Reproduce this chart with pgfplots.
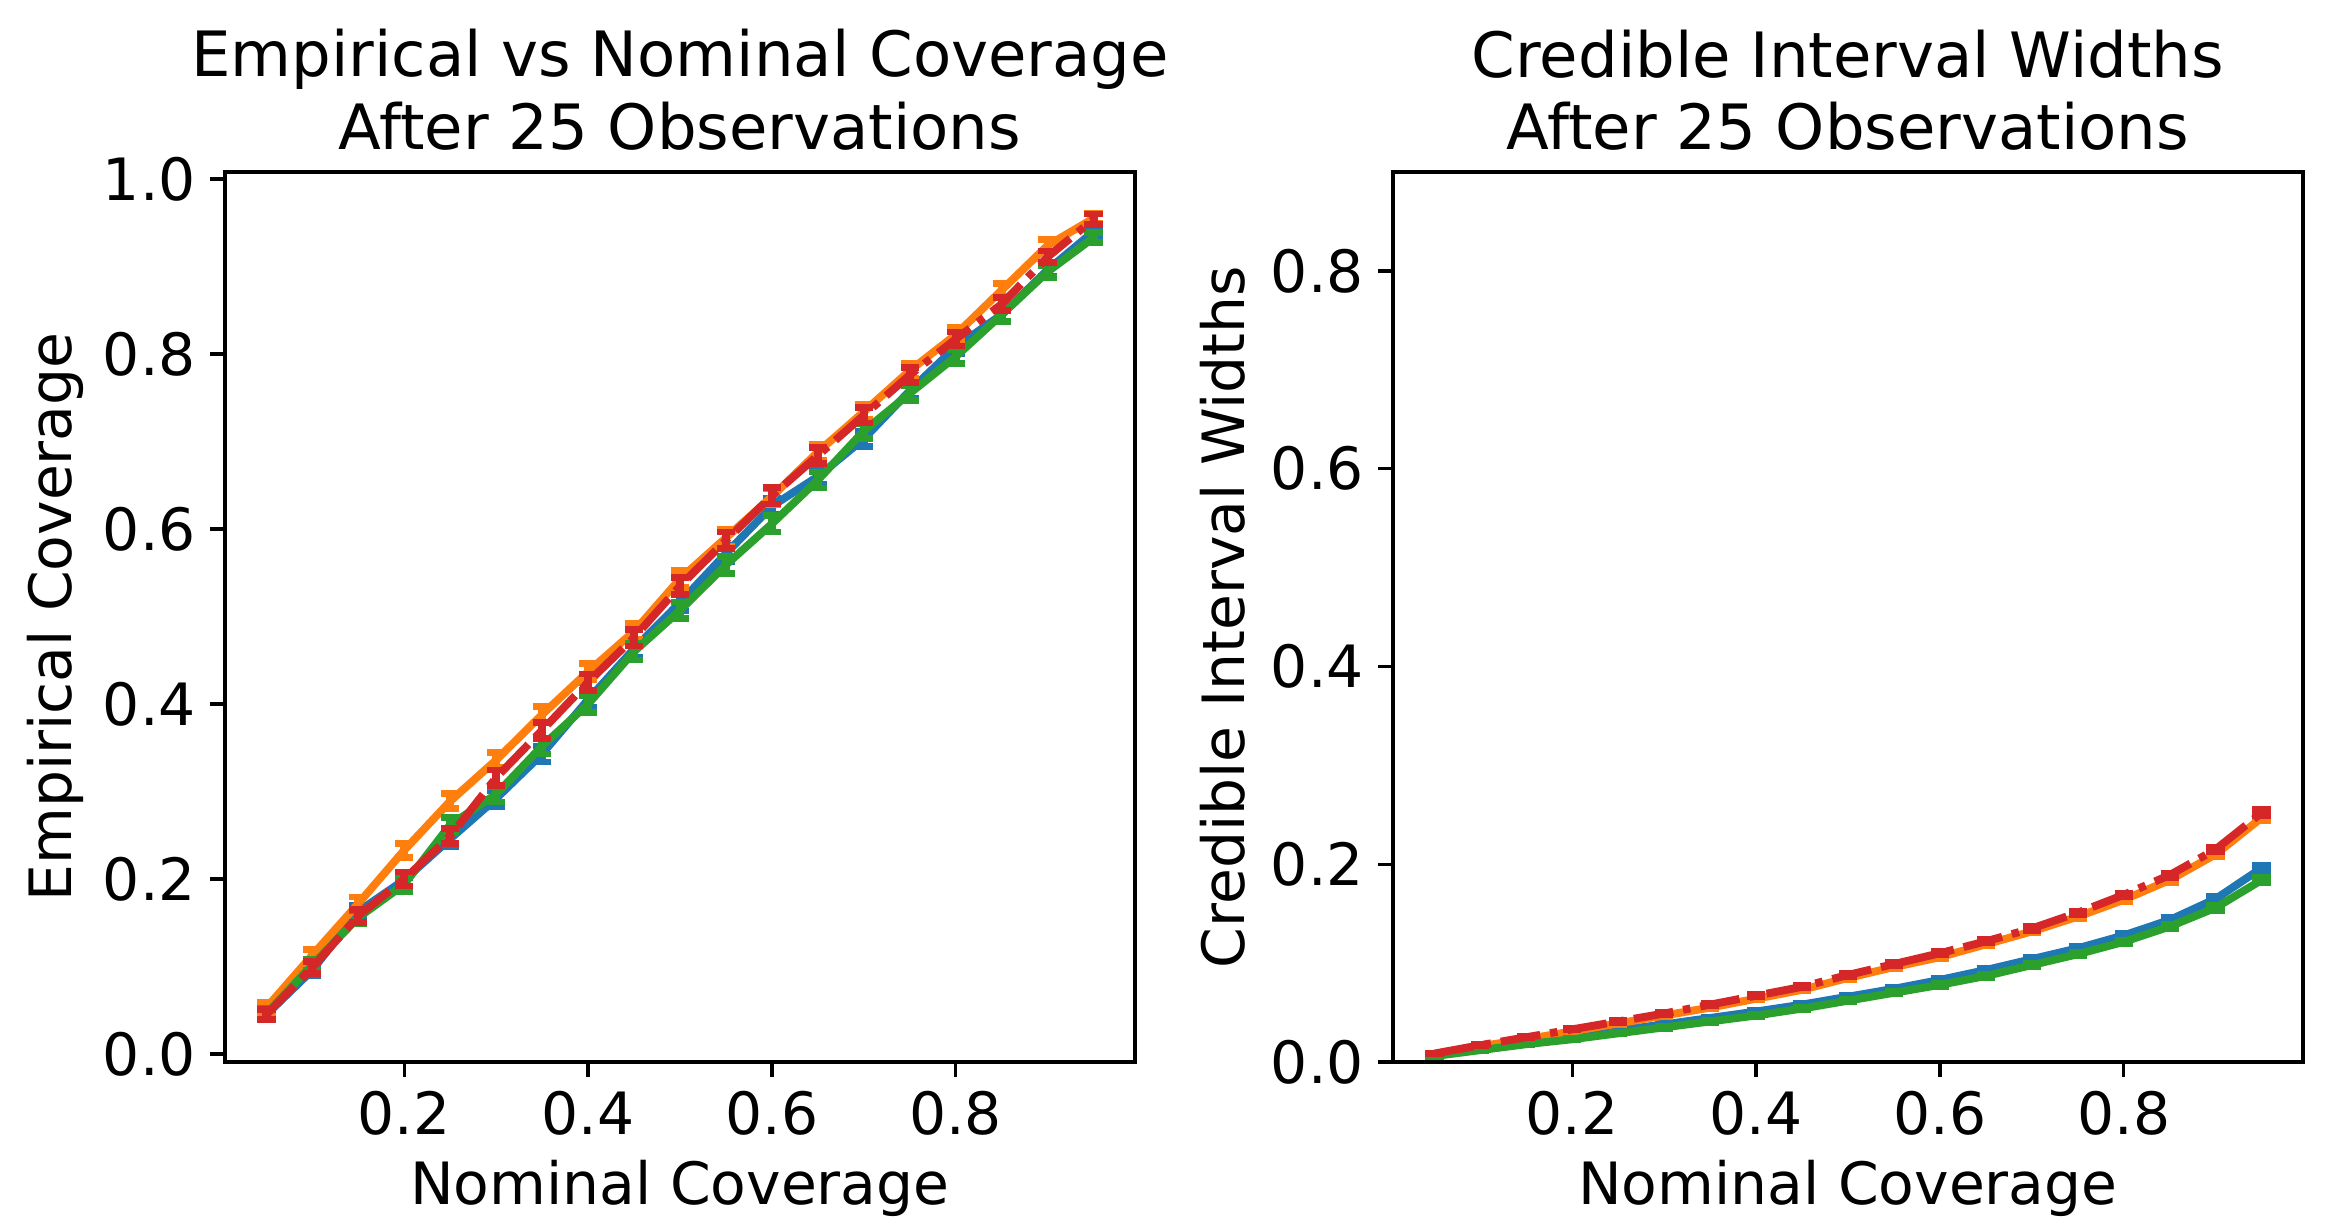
\documentclass[border=0pt]{standalone}
\usepackage{fontspec}
\setmainfont{DejaVu Sans}
\usepackage{pgfplots}
\usepackage{pgfplotstable}
\pgfplotsset{compat=1.18}

\definecolor{tabblue}{HTML}{1F77B4}
\definecolor{taborange}{HTML}{FF7F0E}
\definecolor{tabgreen}{HTML}{2CA02C}
\definecolor{tabred}{HTML}{D62728}

% Empirical coverage of the four methods, with standard errors
\pgfplotstableread{
x     b      o      g      r      e
0.05  0.045  0.053  0.046  0.045  0.0058
0.10  0.096  0.113  0.102  0.099  0.0068
0.15  0.163  0.172  0.156  0.158  0.0075
0.20  0.199  0.233  0.194  0.200  0.0080
0.25  0.246  0.289  0.262  0.249  0.0085
0.30  0.292  0.336  0.297  0.316  0.0088
0.35  0.343  0.388  0.352  0.370  0.0091
0.40  0.405  0.437  0.400  0.425  0.0093
0.45  0.463  0.483  0.460  0.476  0.0095
0.50  0.516  0.543  0.507  0.535  0.0095
0.55  0.572  0.590  0.559  0.587  0.0095
0.60  0.626  0.637  0.606  0.638  0.0093
0.65  0.660  0.688  0.656  0.684  0.0091
0.70  0.703  0.734  0.712  0.730  0.0088
0.75  0.758  0.781  0.755  0.776  0.0085
0.80  0.808  0.822  0.797  0.817  0.0080
0.85  0.845  0.873  0.845  0.857  0.0075
0.90  0.896  0.924  0.894  0.911  0.0068
0.95  0.940  0.955  0.933  0.954  0.0058
}\coverage

% Mean credible interval widths of the four methods
\pgfplotstableread{
x     b      o      g      r      e
0.05  0.0065 0.0080 0.0060 0.0085 0.0004
0.10  0.0130 0.0160 0.0120 0.0170 0.0005
0.15  0.0190 0.0230 0.0180 0.0250 0.0006
0.20  0.0255 0.0310 0.0230 0.0330 0.0007
0.25  0.0320 0.0390 0.0290 0.0410 0.0008
0.30  0.0380 0.0470 0.0350 0.0490 0.0009
0.35  0.0445 0.0550 0.0410 0.0580 0.0010
0.40  0.0510 0.0640 0.0470 0.0670 0.0011
0.45  0.0580 0.0730 0.0540 0.0760 0.0012
0.50  0.0660 0.0850 0.0620 0.0880 0.0013
0.55  0.0740 0.0960 0.0700 0.0990 0.0014
0.60  0.0830 0.1060 0.0780 0.1100 0.0015
0.65  0.0930 0.1190 0.0870 0.1220 0.0016
0.70  0.1040 0.1320 0.0980 0.1350 0.0017
0.75  0.1150 0.1470 0.1090 0.1510 0.0018
0.80  0.1280 0.1640 0.1215 0.1690 0.0020
0.85  0.1436 0.1840 0.1370 0.1890 0.0022
0.90  0.1650 0.2100 0.1560 0.2150 0.0025
0.95  0.1960 0.2470 0.1840 0.2520 0.0030
}\widths

\tikzset{
  paneltitle/.style={anchor=base, font=\fontsize{15}{18}\selectfont},
}

\pgfplotsset{
  panel/.style={
    scale only axis,
    width=218.4pt, height=213.6pt,
    anchor=south west,
    axis line style={line width=0.8pt},
    tick align=outside,
    tick style={line width=0.8pt, black},
    major tick length=3.5pt,
    xtick pos=bottom, ytick pos=left,
    xmin=0.005, xmax=0.995,
    xtick={0.2,0.4,0.6,0.8},
    font=\fontsize{14}{16.8}\selectfont,
    /pgf/number format/.cd, fixed, fixed zerofill, precision=1, assume math mode=true,
    /pgfplots/.cd,
    xlabel style={at={(axis description cs:0.5,0)}, anchor=base, yshift=-34.3pt},
    ylabel style={at={([xshift=-40.8pt]axis description cs:0,0.5)}, anchor=center},
    clip=false,
  },
  series/.style={
    color=#1, line width=1.9pt, no markers,
    error bars/.cd, y dir=both, y explicit,
    error bar style={line width=1.9pt, color=#1, solid},
    error mark options={rotate=90, mark size=2.2pt, line width=1.6pt, color=#1, solid},
    /pgfplots/.cd,
  },
  dashdot/.style={dash pattern=on 9.6pt off 2.4pt on 1.8pt off 2.4pt},
}

\begin{document}
\begin{tikzpicture}
\path[use as bounding box] (0,0) rectangle (559.92pt,293.52pt);

\begin{axis}[panel, at={(54pt,38.64pt)},
  ymin=-0.009, ymax=1.008,
  ytick={0,0.2,0.4,0.6,0.8,1.0},
  xlabel={Nominal Coverage}, ylabel={Empirical Coverage}]
  \addplot+[series=tabblue] table[x=x, y=b, y error=e] {\coverage};
  \addplot+[series=taborange] table[x=x, y=o, y error=e] {\coverage};
  \addplot+[series=tabgreen] table[x=x, y=g, y error=e] {\coverage};
  \addplot+[series=tabred, dashdot] table[x=x, y=r, y error=e] {\coverage};
  \node[paneltitle] at ([yshift=5.5pt]rel axis cs:0.5,1) {After 25 Observations};
  \node[paneltitle] at ([yshift=22.8pt]rel axis cs:0.5,1) {Empirical vs Nominal Coverage};
\end{axis}

\begin{axis}[panel, at={(334.32pt,38.64pt)},
  ymin=0, ymax=0.9,
  ytick={0,0.2,0.4,0.6,0.8},
  xlabel={Nominal Coverage}, ylabel={Credible Interval Widths}]
  \addplot+[series=tabblue] table[x=x, y=b, y error=e] {\widths};
  \addplot+[series=taborange] table[x=x, y=o, y error=e] {\widths};
  \addplot+[series=tabgreen] table[x=x, y=g, y error=e] {\widths};
  \addplot+[series=tabred, dashdot] table[x=x, y=r, y error=e] {\widths};
  \node[paneltitle] at ([yshift=5.5pt]rel axis cs:0.5,1) {After 25 Observations};
  \node[paneltitle] at ([yshift=22.8pt]rel axis cs:0.5,1) {Credible Interval Widths};
\end{axis}
\end{tikzpicture}
\end{document}
